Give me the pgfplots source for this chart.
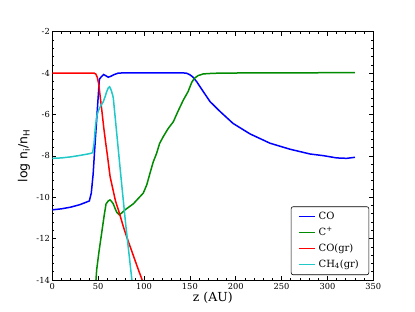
\documentclass[border=0pt]{standalone}
\usepackage{pgfplots}
\pgfplotsset{compat=1.18}
\usepackage{fontspec}
\setmainfont{DejaVu Serif}
\newfontfamily\sansf{DejaVu Sans}
\definecolor{cogreen}{RGB}{0,139,0}
\definecolor{coturq}{RGB}{32,200,200}
\begin{document}
\begin{tikzpicture}[x=1bp,y=1bp]
\path[use as bounding box] (0,0) rectangle (415,312);
\begin{axis}[
  at={(52.3bp,32bp)}, anchor=south west,
  scale only axis, width=321bp, height=248.3bp,
  xmin=0, xmax=350, ymin=-14, ymax=-2,
  xtick={0,50,...,350}, ytick={-14,-12,...,-2},
  minor x tick num=4, minor y tick num=4,
  tick align=inside, major tick length=4bp, minor tick length=2bp,
  axis line style={line width=0.8bp},
  every tick/.style={black, line width=0.6bp},
  tick label style={font=\fontsize{8.3}{9}\selectfont},
  /pgf/number format/assume math mode=true,
  yticklabel style={xshift=1bp},
  xlabel={z (AU)},
  ylabel={\sansf log n\textsubscript{i}/n\textsubscript{H}},
  xlabel style={at={(rel axis cs:0.5,-0.0725)}, anchor=center, font=\fontsize{12.5}{13}\selectfont},
  ylabel style={at={(rel axis cs:-0.088,0.5)}, anchor=center, font=\fontsize{12.5}{13}\selectfont},
  legend cell align=left,
  legend image code/.code={\draw[#1] (0bp,0bp) -- (16bp,0bp);},
  legend style={at={(rel axis cs:0.987,0.02)}, anchor=south east,
    draw=black, line width=0.6bp, rounded corners=2bp,
    font=\fontsize{10}{11}\selectfont,
    nodes={text height=7.5bp, text depth=2.5bp, inner sep=3bp},
    inner xsep=7bp, inner ysep=2bp},
  every axis plot/.append style={line width=1.5bp},
]
\addplot[blue] coordinates {
(0,-10.61) (10,-10.56) (20,-10.48) (30,-10.36) (40.4,-10.18) (42.5,-9.8) (44.5,-8.9) (46.2,-7.7) (48,-6.5) (49.8,-5.3) (51.3,-4.3) (53,-4.2) (56,-4.07) (58,-4.12) (61,-4.2) (64,-4.15) (67,-4.08) (72,-4.0) (80,-3.99) (100,-3.99) (120,-3.99) (140,-3.99) (146,-4.0) (150,-4.08) (153,-4.18) (157.5,-4.42) (164.7,-4.9) (172,-5.38) (183,-5.86) (197,-6.43) (215.6,-6.94) (237.4,-7.39) (259.2,-7.68) (281,-7.91) (295.5,-7.99) (310,-8.1) (321,-8.12) (330,-8.07)
};
\addlegendentry{CO}
\addplot[cogreen] coordinates {
(47.3,-14.2) (48.4,-13.5) (51,-12.6) (53.8,-11.74) (56.5,-10.9) (58.6,-10.32) (61,-10.18) (62.9,-10.13) (64.5,-10.2) (66.5,-10.32) (68.5,-10.55) (70.2,-10.72) (73.1,-10.85) (76,-10.75) (79.3,-10.61) (88.3,-10.32) (95,-10.0) (99.2,-9.8) (103,-9.4) (106.5,-8.84) (110,-8.3) (113.8,-7.87) (117,-7.4) (121,-7.07) (126,-6.7) (132,-6.35) (137,-5.85) (142.9,-5.3) (148,-4.9) (152,-4.45) (155,-4.25) (159,-4.12) (164.7,-4.04) (172,-4.02) (183,-4.0) (230,-3.99) (330,-3.98)
};
\addlegendentry{C\textsuperscript{+}}
\addplot[red] coordinates {
(0,-4) (45.5,-4) (47.5,-4.05) (49,-4.2) (50.5,-4.5) (52,-5.05) (54,-5.8) (56,-6.6) (58,-7.3) (60,-7.95) (63,-9.0) (66,-9.6) (69,-10.2) (72,-10.6) (75,-11.05) (78,-11.5) (81,-11.9) (85,-12.4) (89,-12.9) (93,-13.4) (98,-14.0)
};
\addlegendentry{CO(gr)}
\addplot[coturq] coordinates {
(0,-8.12) (10,-8.1) (20,-8.05) (30,-7.98) (40,-7.9) (44,-7.85) (45.5,-7.4) (47,-6.6) (48.4,-6.1) (50,-5.85) (52,-5.65) (55.6,-5.38) (57.5,-5.15) (59.3,-4.9) (61,-4.72) (62.5,-4.66) (64,-4.8) (65.8,-5.06) (66.5,-5.2) (70,-6.8) (74.6,-8.9) (80,-11.3) (86.8,-14.0)
};
\addlegendentry{CH\textsubscript{4}(gr)}
\end{axis}
\end{tikzpicture}
\end{document}
